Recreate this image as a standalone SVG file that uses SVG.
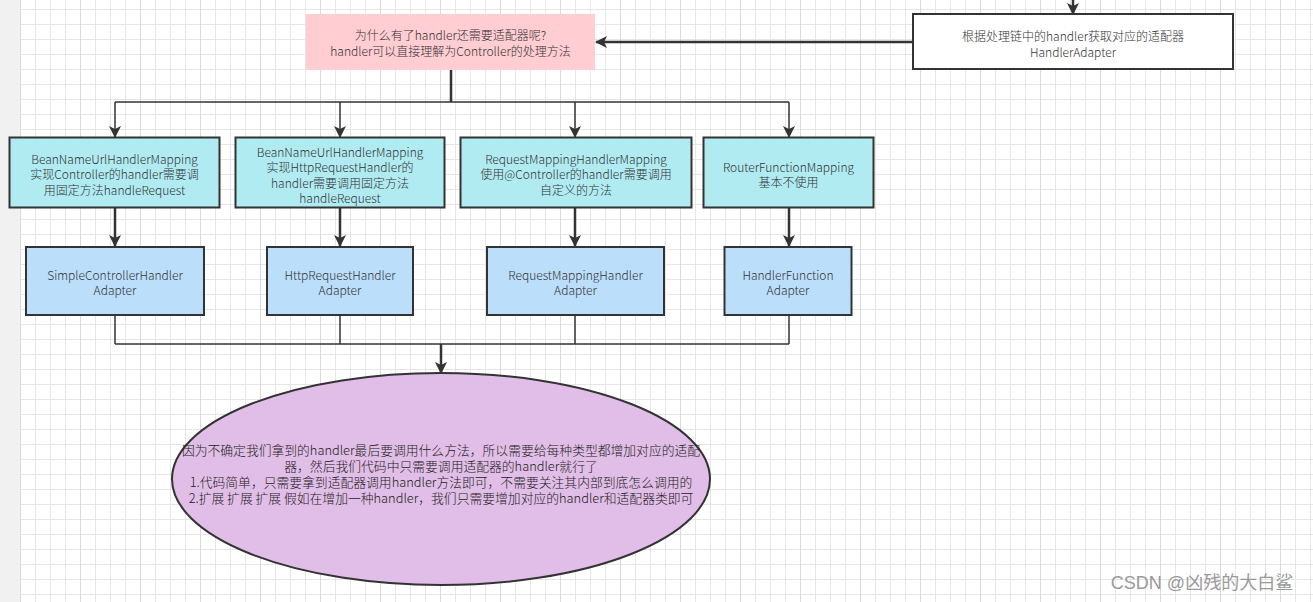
<svg xmlns="http://www.w3.org/2000/svg" width="1313" height="602" viewBox="0 0 1313 602">
<defs>
<pattern id="grid" patternUnits="userSpaceOnUse" x="20" y="9" width="60" height="15">
<rect width="60" height="15" fill="#ffffff"/>
<line x1="0" y1="0.5" x2="60" y2="0.5" stroke="#e6e6e6" stroke-width="1"/>
<line x1="15.5" y1="0" x2="15.5" y2="15" stroke="#e6e6e6" stroke-width="1"/>
<line x1="30.5" y1="0" x2="30.5" y2="15" stroke="#e6e6e6" stroke-width="1"/>
<line x1="45.5" y1="0" x2="45.5" y2="15" stroke="#e6e6e6" stroke-width="1"/>
<line x1="0.5" y1="0" x2="0.5" y2="15" stroke="#dadada" stroke-width="1"/>
</pattern>
<marker id="arr" viewBox="0 0 12 12" refX="11" refY="6" markerWidth="12" markerHeight="12" markerUnits="userSpaceOnUse" orient="auto">
<path d="M0,0 L12,6 L0,12 L3,6 Z" fill="#333333"/>
</marker>
</defs>
<style>
text{font-family:"Noto Sans CJK SC","Liberation Sans",sans-serif;font-weight:300;fill:#333333;text-anchor:middle;dominant-baseline:central;}
.t12{font-size:12px;}
.t13{font-size:12.8px;fill:#222222;}
.box{stroke:#333333;stroke-width:2;}
.cyan{fill:#b0ebf2;}
.blue{fill:#bbdefb;}
.ln{fill:none;stroke:#333333;stroke-width:1.5;}
.tr{fill:none;stroke:#333333;stroke-width:2.5;}
</style>
<rect x="0" y="0" width="1313" height="602" fill="url(#grid)"/>
<rect x="0" y="0" width="20" height="602" fill="#f1f1f1"/>

<g id="connectors">
<line class="tr" x1="1073" y1="0" x2="1073" y2="14" marker-end="url(#arr)"/>
<line class="tr" x1="913" y1="42" x2="596" y2="42" marker-end="url(#arr)"/>
<polyline class="tr" points="451,70 451,102"/>
<polyline class="ln" points="115,102 789,102"/>
<line class="ln" x1="115" y1="102" x2="115" y2="137" marker-end="url(#arr)"/>
<line class="ln" x1="340" y1="102" x2="340" y2="137" marker-end="url(#arr)"/>
<line class="ln" x1="575" y1="102" x2="575" y2="137" marker-end="url(#arr)"/>
<line class="ln" x1="789" y1="102" x2="789" y2="137" marker-end="url(#arr)"/>
<line class="tr" x1="115" y1="208" x2="115" y2="246" marker-end="url(#arr)"/>
<line class="tr" x1="340" y1="208" x2="340" y2="246" marker-end="url(#arr)"/>
<line class="tr" x1="575" y1="208" x2="575" y2="246" marker-end="url(#arr)"/>
<line class="tr" x1="789" y1="208" x2="789" y2="246" marker-end="url(#arr)"/>
<line class="ln" x1="115" y1="315" x2="115" y2="344"/>
<line class="ln" x1="340" y1="315" x2="340" y2="344"/>
<line class="ln" x1="575" y1="315" x2="575" y2="344"/>
<line class="ln" x1="789" y1="315" x2="789" y2="344"/>
<line class="ln" x1="115" y1="344" x2="789" y2="344"/>
<line class="tr" x1="441" y1="344" x2="441" y2="373" marker-end="url(#arr)"/>
</g>

<g id="question">
<rect x="306" y="14" width="289" height="56" fill="#ffcdd2"/>
<text class="t12" x="450.5" y="34.5">为什么有了handler还需要适配器呢?</text>
<text class="t12" x="450.5" y="50.5">handler可以直接理解为Controller的处理方法</text>
</g>

<g id="getAdapter">
<rect class="box" x="913" y="14" width="320" height="55" fill="#ffffff"/>
<text class="t12" x="1073" y="35">根据处理链中的handler获取对应的适配器</text>
<text class="t12" x="1073" y="51">HandlerAdapter</text>
</g>

<g id="mapping1">
<rect class="box cyan" x="9.5" y="137.5" width="210" height="70"/>
<text class="t12" x="114.5" y="158">BeanNameUrlHandlerMapping</text>
<text class="t12" x="114.5" y="173.5">实现Controller的handler需要调</text>
<text class="t12" x="114.5" y="189">用固定方法handleRequest</text>
</g>

<g id="mapping2">
<rect class="box cyan" x="235.5" y="137.5" width="209" height="70"/>
<text class="t12" x="340" y="151">BeanNameUrlHandlerMapping</text>
<text class="t12" x="340" y="166.5">实现HttpRequestHandler的</text>
<text class="t12" x="340" y="182">handler需要调用固定方法</text>
<text class="t12" x="340" y="197.5">handleRequest</text>
</g>

<g id="mapping3">
<rect class="box cyan" x="460.5" y="137.5" width="231" height="70"/>
<text class="t12" x="576" y="158">RequestMappingHandlerMapping</text>
<text class="t12" x="576" y="173.5">使用@Controller的handler需要调用</text>
<text class="t12" x="576" y="189">自定义的方法</text>
</g>

<g id="mapping4">
<rect class="box cyan" x="703.5" y="137.5" width="170" height="70"/>
<text class="t12" x="788.5" y="166">RouterFunctionMapping</text>
<text class="t12" x="788.5" y="181.5">基本不使用</text>
</g>

<g id="adapter1">
<rect class="box blue" x="26" y="247" width="178" height="68"/>
<text class="t12" x="115" y="274.5">SimpleControllerHandler</text>
<text class="t12" x="115" y="289.5">Adapter</text>
</g>

<g id="adapter2">
<rect class="box blue" x="267" y="247" width="146" height="68"/>
<text class="t12" x="340" y="274.5">HttpRequestHandler</text>
<text class="t12" x="340" y="289.5">Adapter</text>
</g>

<g id="adapter3">
<rect class="box blue" x="487" y="247" width="177" height="68"/>
<text class="t12" x="575.5" y="274.5">RequestMappingHandler</text>
<text class="t12" x="575.5" y="289.5">Adapter</text>
</g>

<g id="adapter4">
<rect class="box blue" x="724.5" y="247" width="127" height="68"/>
<text class="t12" x="788" y="274.5">HandlerFunction</text>
<text class="t12" x="788" y="289.5">Adapter</text>
</g>

<g id="summary">
<ellipse class="box" cx="441" cy="479" rx="269" ry="106" fill="#e1bee7"/>
<text class="t13" x="441" y="449.5">因为不确定我们拿到的handler最后要调用什么方法，所以需要给每种类型都增加对应的适配</text>
<text class="t13" x="441" y="465.5">器，然后我们代码中只需要调用适配器的handler就行了</text>
<text class="t13" x="441" y="481.5">1.代码简单，只需要拿到适配器调用handler方法即可，不需要关注其内部到底怎么调用的</text>
<text class="t13" x="441" y="497.5">2.扩展 扩展 扩展  假如在增加一种handler，我们只需要增加对应的handler和适配器类即可</text>
</g>

<text x="1202" y="583" style="font-family:'Liberation Sans','Noto Sans CJK SC',sans-serif;font-size:18px;font-weight:400;fill:#9a9a9a;">CSDN @凶残的大白鲨</text>
</svg>
